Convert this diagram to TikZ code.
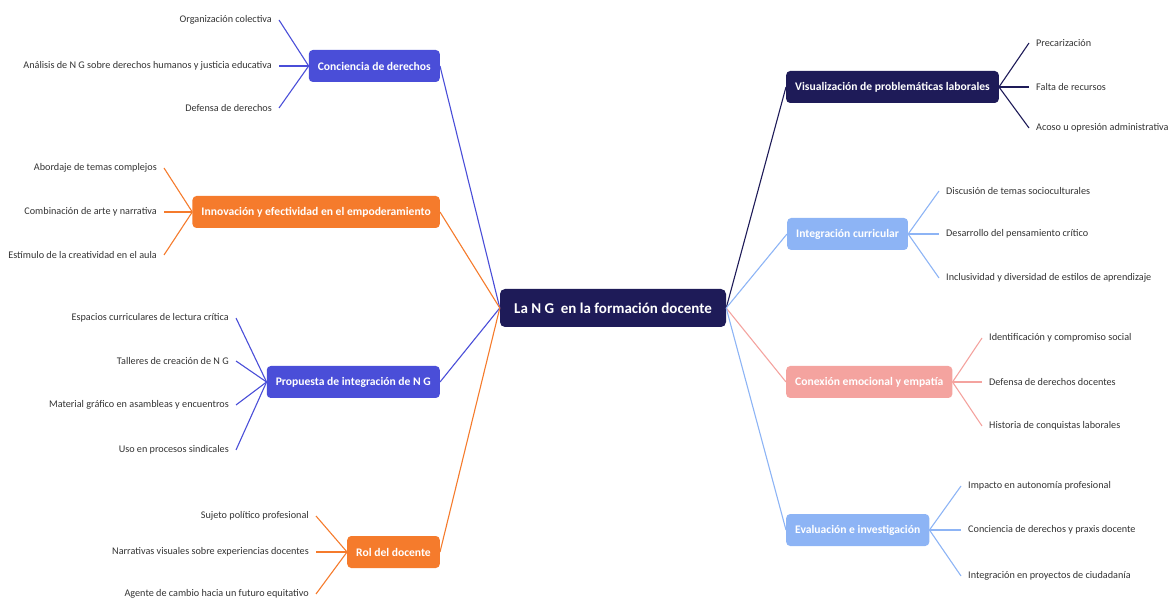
\documentclass[tikz,border=0pt]{standalone}
\usepackage{fontspec}
\setmainfont{Carlito}
\definecolor{cblue}{HTML}{4A4ED8}
\definecolor{corange}{HTML}{F57B2C}
\definecolor{cnavy}{HTML}{1E1B58}
\definecolor{clight}{HTML}{8DB4F5}
\definecolor{cpink}{HTML}{F4A39F}
\definecolor{ctext}{HTML}{333333}
\begin{document}
\begin{tikzpicture}[x=1pt,y=-1pt,
  branch/.style={rounded corners=4pt,fill=#1,text=white,font=\bfseries\fontsize{11.6}{13}\selectfont,minimum height=32pt,inner xsep=9pt},
  leaf/.style={text=ctext,font=\fontsize{10.2}{12}\selectfont,inner xsep=7pt,inner ysep=2pt},
  conn/.style={draw=#1,line width=1.1pt}]
\useasboundingbox (0,0) rectangle (1170,601);
\node[rounded corners=5pt,fill=cnavy,text=white,font=\bfseries\fontsize{15}{17}\selectfont,minimum height=38pt,minimum width=226pt] (c) at (613,308) {La N G\ \ en la formación docente};
% left branches
\node[branch=cblue,anchor=east] (b1) at (440,66) {Conciencia de derechos};
\node[branch=corange,anchor=east] (b2) at (440,212) {Innovación y efectividad en el empoderamiento};
\node[branch=cblue,anchor=east] (b3) at (440,382) {Propuesta de integración de N G};
\node[branch=corange,anchor=east] (b4) at (440,552) {Rol del docente};
% right branches
\node[branch=cnavy,anchor=west] (b5) at (786,87) {Visualización de problemáticas laborales};
\node[branch=clight,anchor=west] (b6) at (787,234) {Integración curricular};
\node[branch=cpink,anchor=west] (b7) at (786,382) {Conexión emocional y empatía};
\node[branch=clight,anchor=west] (b8) at (786,530) {Evaluación e investigación};
% connectors center to branches
\draw[conn=cblue] (c.west) -- (b1.east);
\draw[conn=corange] (c.west) -- (b2.east);
\draw[conn=cblue] (c.west) -- (b3.east);
\draw[conn=corange] (c.west) -- (b4.east);
\draw[conn=cnavy] (c.east) -- (b5.west);
\draw[conn=clight] (c.east) -- (b6.west);
\draw[conn=cpink] (c.east) -- (b7.west);
\draw[conn=clight] (c.east) -- (b8.west);
% leaves b1
\node[leaf,anchor=east] (l11) at (279,20) {Organización colectiva};
\node[leaf,anchor=east] (l12) at (279,66) {Análisis de N G sobre derechos humanos y justicia educativa};
\node[leaf,anchor=east] (l13) at (279,108) {Defensa de derechos};
\foreach \l in {l11,l12,l13} \draw[conn=cblue] (b1.west) -- (\l.east);
% leaves b2
\node[leaf,anchor=east] (l21) at (164,168) {Abordaje de temas complejos};
\node[leaf,anchor=east] (l22) at (164,212) {Combinación de arte y narrativa};
\node[leaf,anchor=east] (l23) at (164,255) {Estímulo de la creatividad en el aula};
\foreach \l in {l21,l22,l23} \draw[conn=corange] (b2.west) -- (\l.east);
% leaves b3
\node[leaf,anchor=east] (l31) at (236,318) {Espacios curriculares de lectura crítica};
\node[leaf,anchor=east] (l32) at (236,361) {Talleres de creación de N G};
\node[leaf,anchor=east] (l33) at (236,405) {Material gráfico en asambleas y encuentros};
\node[leaf,anchor=east] (l34) at (236,450) {Uso en procesos sindicales};
\foreach \l in {l31,l32,l33,l34} \draw[conn=cblue] (b3.west) -- (\l.east);
% leaves b4
\node[leaf,anchor=east] (l41) at (316,516) {Sujeto político profesional};
\node[leaf,anchor=east] (l42) at (316,552) {Narrativas visuales sobre experiencias docentes};
\node[leaf,anchor=east] (l43) at (316,594) {Agente de cambio hacia un futuro equitativo};
\foreach \l in {l41,l42,l43} \draw[conn=corange] (b4.west) -- (\l.east);
% leaves b5
\node[leaf,anchor=west] (l51) at (1029,43) {Precarización};
\node[leaf,anchor=west] (l52) at (1029,87) {Falta de recursos};
\node[leaf,anchor=west] (l53) at (1029,128) {Acoso u opresión administrativa};
\foreach \l in {l51,l52,l53} \draw[conn=cnavy] (b5.east) -- (\l.west);
% leaves b6
\node[leaf,anchor=west] (l61) at (939,191) {Discusión de temas socioculturales};
\node[leaf,anchor=west] (l62) at (939,234) {Desarrollo del pensamiento crítico};
\node[leaf,anchor=west] (l63) at (939,278) {Inclusividad y diversidad de estilos de aprendizaje};
\foreach \l in {l61,l62,l63} \draw[conn=clight] (b6.east) -- (\l.west);
% leaves b7
\node[leaf,anchor=west] (l71) at (982,338) {Identificación y compromiso social};
\node[leaf,anchor=west] (l72) at (982,382) {Defensa de derechos docentes};
\node[leaf,anchor=west] (l73) at (982,426) {Historia de conquistas laborales};
\foreach \l in {l71,l72,l73} \draw[conn=cpink] (b7.east) -- (\l.west);
% leaves b8
\node[leaf,anchor=west] (l81) at (961,486) {Impacto en autonomía profesional};
\node[leaf,anchor=west] (l82) at (961,530) {Conciencia de derechos y praxis docente};
\node[leaf,anchor=west] (l83) at (961,576) {Integración en proyectos de ciudadanía};
\foreach \l in {l81,l82,l83} \draw[conn=clight] (b8.east) -- (\l.west);
\end{tikzpicture}
\end{document}
